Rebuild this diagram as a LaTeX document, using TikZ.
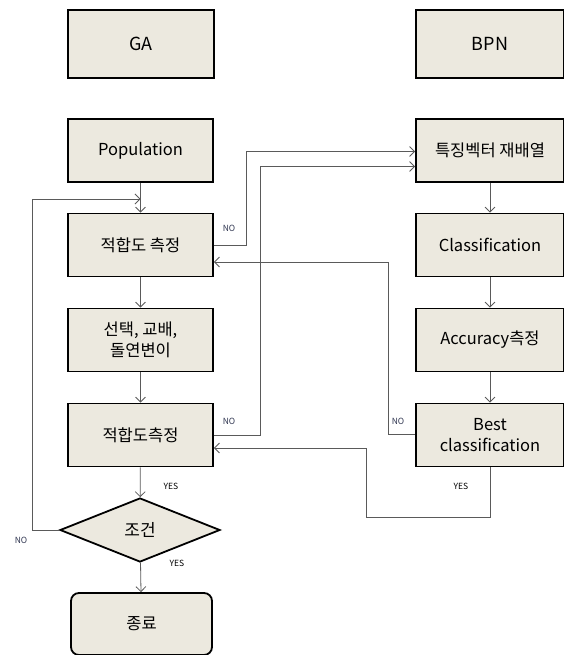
\documentclass[tikz,border=0pt]{standalone}
\usepackage{fontspec}
\setmainfont{Noto Sans CJK KR}
\usetikzlibrary{shapes.geometric,arrows.meta}
\definecolor{boxfill}{HTML}{ECE9DF}
\definecolor{linegray}{HTML}{5A5A5A}
\definecolor{nocol}{HTML}{2F3550}
\tikzset{
  box/.style={draw=black, line width=1.8pt, fill=boxfill, minimum width=145pt, minimum height=63pt, inner sep=0pt, align=center, font=\fontsize{16.5}{21}\selectfont},
  bbox/.style={box, minimum width=148pt},
  decision/.style={diamond, draw=black, line width=1.8pt, fill=boxfill, minimum width=160pt, minimum height=64pt, inner sep=0pt, aspect=2.5, font=\fontsize{17}{20}\selectfont},
  endbox/.style={box, rounded corners=8pt, minimum width=141pt, minimum height=62pt},
  arr/.style={draw=linegray, line width=0.8pt, -{Straight Barb[length=5pt,width=10pt]}},
  lab/.style={font=\fontsize{8.5}{10}\selectfont, inner sep=0pt},
}
\begin{document}
\begin{tikzpicture}[x=1pt,y=-1pt]
\useasboundingbox (0,0) rectangle (563,655);
% headers
\node[box, minimum width=146pt, minimum height=68pt, font=\fontsize{18}{21}\selectfont] (ga) at (141,44) {GA};
\node[bbox, minimum height=68pt, font=\fontsize{18}{21}\selectfont] (bpn) at (490,44) {BPN};
% GA column
\node[box] (pop) at (140.5,150.5) {Population};
\node[box] (fit1) at (140.5,245) {적합도 측정};
\node[box] (sel) at (140.5,340) {선택, 교배,\\돌연변이};
\node[box] (fit2) at (140.5,435) {적합도측정};
\node[decision] (cond) at (140,530) {조건};
\node[endbox] (fin) at (141.5,624) {종료};
% BPN column
\node[bbox] (feat) at (490,150.5) {특징벡터 재배열};
\node[bbox] (cls) at (490,245) {Classification};
\node[bbox] (acc) at (490,340) {Accuracy측정};
\node[bbox] (best) at (490,435) {Best\\classification};
% helper coordinates
\coordinate (join) at (140.5,199);
\coordinate (loopx) at (32,530);
\coordinate (nox1) at (246,245);
\coordinate (nox2) at (260,435);
\coordinate (nox3) at (388,434);
\coordinate (yesx) at (366,517);
% vertical flow
\draw[arr] (pop) -- (fit1);
\draw[arr] (fit1) -- (sel);
\draw[arr] (sel) -- (fit2);
\draw[arr] (fit2) -- (cond);
\draw[arr] (cond) -- (fin);
\draw[arr] (feat) -- (cls);
\draw[arr] (cls) -- (acc);
\draw[arr] (acc) -- (best);
% loop back from condition
\draw[arr] (cond.west) -- (loopx) |- (join);
% NO from fit1 to feature
\draw[arr] (fit1.east) -- (nox1) |- ([yshift=-1pt]feat.west);
% NO from fit2 to feature
\draw[arr] (fit2.east) -- (nox2) |- ([yshift=-16pt]feat.west);
% NO from best to fit1
\draw[arr] ([yshift=1pt]best.west) -- (nox3) |- ([yshift=-17pt]fit1.east);
% YES from best to fit2
\draw[arr] (best.south) |- (yesx) |- ([yshift=-13pt]fit2.east);
% labels
\node[lab, text=nocol] (l1) at (229,228) {NO};
\node[lab, text=nocol] (l2) at (229,421) {NO};
\node[lab, text=nocol] (l3) at (398,421) {NO};
\node[lab, text=nocol] (l4) at (21,540) {NO};
\node[lab] (l5) at (171,486) {YES};
\node[lab] (l6) at (177,563) {YES};
\node[lab] (l7) at (461,486) {YES};
\end{tikzpicture}
\end{document}
